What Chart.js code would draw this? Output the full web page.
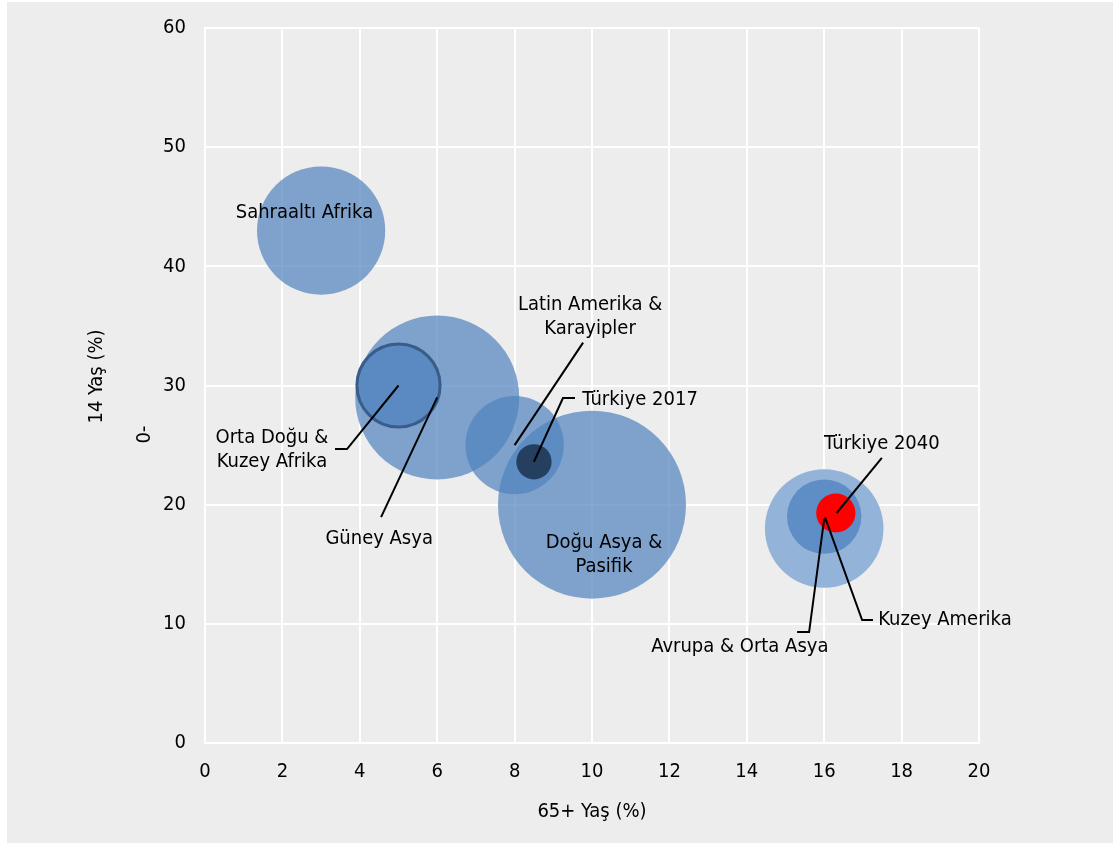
<!DOCTYPE html>
<html><head><meta charset="utf-8">
<script src="https://cdn.jsdelivr.net/npm/chart.js@4/dist/chart.umd.min.js"></script>
<style>
html,body{margin:0;padding:0;background:#fff;}
#wrap{position:absolute;left:7px;top:2px;width:1106px;height:841px;background:#ededed;}
canvas{display:block;}
</style></head><body>
<div id="wrap"><canvas id="c" width="1106" height="841"></canvas></div>
<script>
// ---- data ----
const regions = ["Sahraaltı Afrika","Güney Asya","Orta Doğu & Kuzey Afrika","Latin Amerika & Karayipler","Doğu Asya & Pasifik","Türkiye 2017","Avrupa & Orta Asya","Kuzey Amerika","Türkiye 2040"];
const elderlyPct = [3, 6, 5, 8, 10, 8.5, 16, 16, 16.3];      // 65+ Yaş (%)
const childPct   = [43, 29, 30, 25, 20, 23.6, 18, 19, 19.3];  // 0-14 Yaş (%)
const population = [1070, 1750, 450, 630, 2300, 81, 915, 360, 100]; // bubble size (million)
const xTickValues = [0, 2, 4, 6, 8, 10, 12, 14, 16, 18, 20];
const yTickValues = [0, 10, 20, 30, 40, 50, 60];
const xTitle = "65+ Yaş (%)";
const yTitleMain = "14 Yaş (%)";
const yTitlePrefix = "0-";

// ---- styles ----
const FONT = '"DejaVu Sans Condensed", "DejaVu Sans", sans-serif';
const FS = 20;
const maxRadius = 94;
const maxPop = Math.max(...population);
const fills = ["rgba(79,129,189,0.7)","rgba(79,129,189,0.7)","rgba(79,129,189,0.75)","rgba(79,129,189,0.7)","rgba(79,129,189,0.7)","#243f60","#94b3d9","#5f8dc5","#ff0000"];
const borders = [0,0,3,0,0,0,0,0,0];

// label text placement (data units) and leader lines
const annotations = [
  {lines:["Sahraaltı Afrika"], at:[2.57,44.5]},
  {lines:["Latin Amerika &","Karayipler"], at:[9.95,35.75], leader:[[8,25],[9.77,33.6]]},
  {lines:["Türkiye 2017"], at:[11.24,28.78], leader:[[8.5,23.6],[9.25,28.95],[9.56,28.95]]},
  {lines:["Orta Doğu &","Kuzey Afrika"], at:[1.73,24.59], leader:[[5,30],[3.67,24.67],[3.36,24.67]]},
  {lines:["Güney Asya"], at:[4.5,17.12], leader:[[6,29],[4.55,18.96]]},
  {lines:["Doğu Asya &","Pasifik"], at:[10.31,15.82]},
  {lines:["Türkiye 2040"], at:[17.49,25.09], leader:[[16.32,19.3],[17.49,23.92]]},
  {lines:["Kuzey Amerika"], at:[19.12,10.32], leader:[[16.02,18.96],[16.98,10.32],[17.26,10.32]]},
  {lines:["Avrupa & Orta Asya"], at:[13.82,8.06], leader:[[16,18.8],[15.61,9.31],[15.3,9.31]]}
];

const points = regions.map((name,i)=>({x:elderlyPct[i], y:childPct[i], r:maxRadius*Math.sqrt(population[i]/maxPop), name}));

const labelPlugin = {
  id:'labels',
  afterDatasetsDraw(chart){
    const {ctx, scales:{x, y}, chartArea} = chart;
    ctx.save();
    ctx.strokeStyle = '#000';
    ctx.lineWidth = 2;
    ctx.lineJoin = 'miter';
    annotations.forEach(a=>{
      if(a.leader){
        ctx.beginPath();
        a.leader.forEach((p,k)=>{
          const px = x.getPixelForValue(p[0]), py = y.getPixelForValue(p[1]);
          if(k===0) ctx.moveTo(px,py); else ctx.lineTo(px,py);
        });
        ctx.stroke();
      }
    });
    ctx.fillStyle = '#000';
    ctx.font = FS + 'px ' + FONT;
    ctx.textAlign = 'center';
    ctx.textBaseline = 'middle';
    const lh = 24;
    annotations.forEach(a=>{
      const cx = x.getPixelForValue(a.at[0]), cy = y.getPixelForValue(a.at[1]);
      const n = a.lines.length;
      a.lines.forEach((t,k)=>{
        ctx.fillText(t, cx, cy + (k-(n-1)/2)*lh);
      });
    });
    // axis titles
    const midX = (chartArea.left+chartArea.right)/2;
    const midY = (chartArea.top+chartArea.bottom)/2;
    ctx.fillText(xTitle, midX, chartArea.bottom + 69);
    ctx.save();
    ctx.translate(chartArea.left - 108, midY - 9);
    ctx.rotate(-Math.PI/2);
    ctx.fillText(yTitleMain, 0, 0);
    ctx.restore();
    ctx.save();
    ctx.translate(chartArea.left - 60, midY + 49);
    ctx.rotate(-Math.PI/2);
    ctx.fillText(yTitlePrefix, 0, 0);
    ctx.restore();
    ctx.restore();
  }
};

new Chart(document.getElementById('c'), {
  type:'bubble',
  data:{ datasets:[{
    data: points,
    backgroundColor: fills,
    borderColor: '#385d8a',
    borderWidth: borders,
    hoverBorderWidth: borders,
    hoverRadius: 0,
    clip: false
  }]},
  options:{
    responsive:false,
    animation:false,
    events:[],
    devicePixelRatio:1,
    layout:{autoPadding:false, padding:{left:0, top:26, right:134, bottom:0}},
    plugins:{legend:{display:false}, tooltip:{enabled:false}},
    scales:{
      x:{
        type:'linear', min:0, max:20,
        afterBuildTicks(s){ s.ticks = xTickValues.map(v=>({value:v})); },
        afterFit(s){ s.height = 100; s.paddingLeft = 0; s.paddingRight = 0; },
        grid:{color:'#ffffff', lineWidth:2, drawTicks:false},
        border:{display:true, color:'#ffffff', width:2},
        ticks:{color:'#000', font:{family:FONT, size:FS}, padding:17, maxRotation:0}
      },
      y:{
        type:'linear', min:0, max:60,
        afterBuildTicks(s){ s.ticks = yTickValues.map(v=>({value:v})); },
        afterFit(s){ s.width = 198; s.paddingTop = 0; s.paddingBottom = 0; },
        grid:{color:'#ffffff', lineWidth:2, drawTicks:false},
        border:{display:true, color:'#ffffff', width:2},
        ticks:{color:'#000', font:{family:FONT, size:FS}, padding:19}
      }
    }
  },
  plugins:[labelPlugin]
});
</script>
</body></html>
